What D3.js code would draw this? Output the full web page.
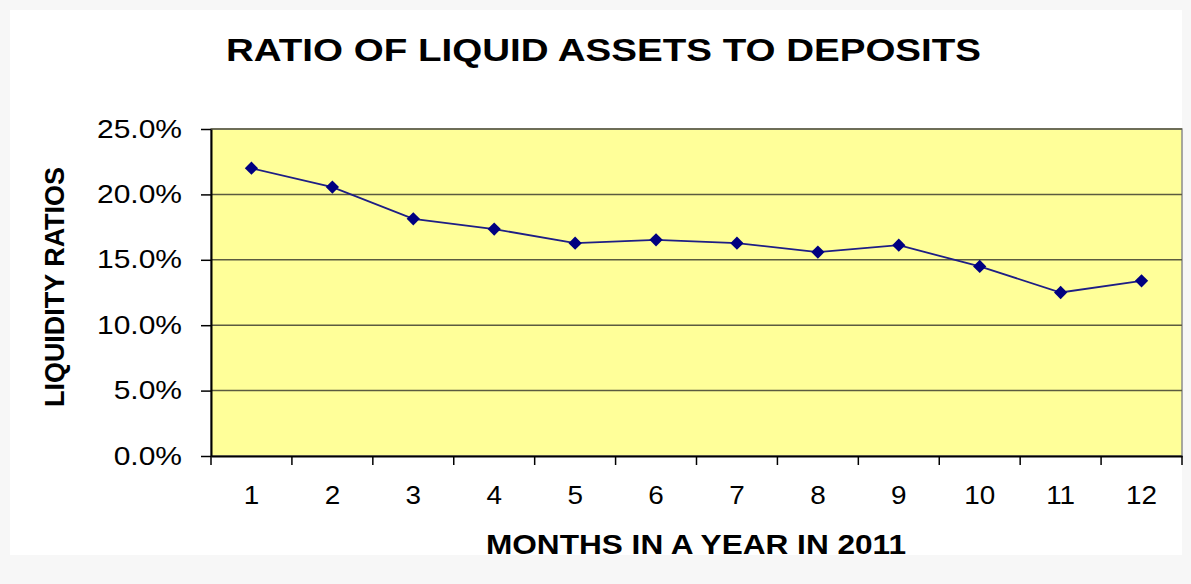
<!DOCTYPE html>
<html>
<head>
<meta charset="utf-8">
<script src="https://cdn.jsdelivr.net/npm/d3@7"></script>
<style>
  html, body { margin: 0; padding: 0; background: #f7f7f7; }
  svg { display: block; }
</style>
</head>
<body>
<svg id="chart" width="1191" height="584"></svg>
<script>
const months = ["1","2","3","4","5","6","7","8","9","10","11","12"];
const ratios = [0.220, 0.2056, 0.1813, 0.1735, 0.1627, 0.1653, 0.1627, 0.1559, 0.1612, 0.1449, 0.1250, 0.1339];
const yTicks = [0, 0.05, 0.10, 0.15, 0.20, 0.25];
const titleText = "RATIO OF LIQUID ASSETS TO DEPOSITS";
const xTitle = "MONTHS IN A YEAR IN 2011";
const yTitle = "LIQUIDITY RATIOS";

const svg = d3.select("#chart");
const m = { left: 211, right: 1182, top: 129, bottom: 456 };
const FONT = "Liberation Sans, Arial, sans-serif";

svg.append("rect").attr("x", 10).attr("y", 10).attr("width", 1172).attr("height", 545)
  .attr("fill", "#ffffff");

const x = d3.scaleBand().domain(months).range([m.left, m.right]).padding(0);
const y = d3.scaleLinear().domain([0, 0.25]).range([m.bottom, m.top]);

// plot area
svg.append("rect")
  .attr("x", m.left).attr("y", m.top)
  .attr("width", m.right - m.left).attr("height", m.bottom - m.top)
  .attr("fill", "#FFFF99").attr("stroke", "#8c8c8c").attr("stroke-width", 1.5);

// gridlines
svg.append("g").selectAll("line").data(yTicks.filter(d => d > 0))
  .join("line")
  .attr("x1", m.left).attr("x2", m.right)
  .attr("y1", d => y(d)).attr("y2", d => y(d))
  .attr("stroke", "#5b5b40").attr("stroke-width", 1.5);

// horizontal stretch helper (reference glyphs are slightly wide)
function stretch(sel, factor) {
  sel.each(function() {
    const w = this.getComputedTextLength();
    d3.select(this).attr("textLength", w * factor).attr("lengthAdjust", "spacingAndGlyphs");
  });
}

// y axis
const yAxis = d3.axisLeft(y).tickValues(yTicks).tickFormat(d3.format(".1%")).tickSize(10).tickSizeOuter(0);
const gy = svg.append("g").attr("transform", `translate(${m.left},0)`).call(yAxis);
gy.select(".domain").attr("stroke", "#000").attr("stroke-width", 2);
gy.selectAll(".tick line").attr("stroke", "#000").attr("stroke-width", 1.5);
const yLabels = gy.selectAll(".tick text").attr("x", -29)
  .style("font-family", FONT).style("font-size", "25px").attr("fill", "#000");
{
  const ref = yLabels.filter(d => d === 0.10).node();
  const f = ref ? 85 / ref.getComputedTextLength() : 1;
  stretch(yLabels, f);
}

// x axis
const xAxis = d3.axisBottom(x).tickSize(0).tickSizeOuter(0);
const gx = svg.append("g").attr("transform", `translate(0,${m.bottom})`).call(xAxis);
gx.select(".domain").attr("stroke", "#000").attr("stroke-width", 2);
const xLabels = gx.selectAll(".tick text").attr("y", 30).attr("dy", "0.71em")
  .style("font-family", FONT).style("font-size", "26px").attr("fill", "#000");
{
  const ref = xLabels.filter(d => d === "10").node();
  const f = ref ? 31 / ref.getComputedTextLength() : 1;
  stretch(xLabels, f);
}
// boundary tick marks
const bounds = months.map(d => x(d)).concat([x(months[months.length - 1]) + x.bandwidth()]);
gx.selectAll(".bound").data(bounds).join("line").attr("class", "bound")
  .attr("x1", d => d).attr("x2", d => d).attr("y1", 0).attr("y2", 9)
  .attr("stroke", "#000").attr("stroke-width", 1.5);

// line
const cx = d => x(d) + x.bandwidth() / 2;
const line = d3.line().x((d, i) => cx(months[i])).y(d => y(d));
svg.append("path").datum(ratios).attr("d", line)
  .attr("fill", "none").attr("stroke", "#1e1e85").attr("stroke-width", 1.8);

// markers
const diamond = d3.symbol().type(d3.symbolSquare).size(88);
svg.append("g").selectAll("path").data(ratios).join("path")
  .attr("d", diamond)
  .attr("transform", (d, i) => `translate(${cx(months[i])},${y(d)}) rotate(45)`)
  .attr("fill", "#000080");

// titles
svg.append("text").attr("x", 603.5).attr("y", 61)
  .attr("text-anchor", "middle").style("font-family", FONT)
  .attr("font-weight", "bold").style("font-size", "32px").attr("fill", "#000")
  .attr("textLength", 755).attr("lengthAdjust", "spacingAndGlyphs")
  .text(titleText);

svg.append("text").attr("x", 696).attr("y", 554)
  .attr("text-anchor", "middle").style("font-family", FONT)
  .attr("font-weight", "bold").style("font-size", "27px").attr("fill", "#000")
  .attr("textLength", 420).attr("lengthAdjust", "spacingAndGlyphs")
  .text(xTitle);

svg.append("text").attr("transform", "translate(64,287) rotate(-90)")
  .attr("text-anchor", "middle").style("font-family", FONT)
  .attr("font-weight", "bold").style("font-size", "27px").attr("fill", "#000")
  .attr("textLength", 240).attr("lengthAdjust", "spacingAndGlyphs")
  .text(yTitle);
</script>
</body>
</html>
